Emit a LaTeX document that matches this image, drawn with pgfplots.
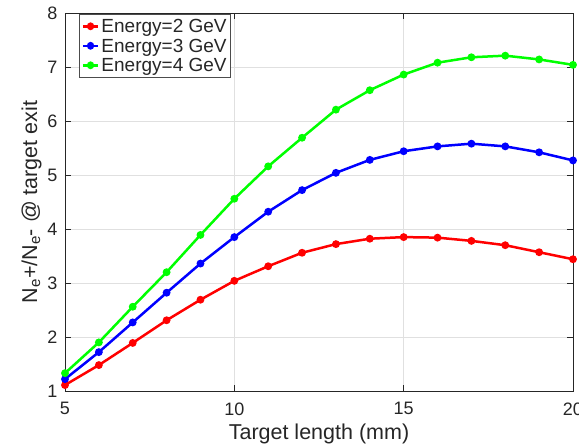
\documentclass[border=0pt]{standalone}
\usepackage{pgfplots}
\pgfplotsset{compat=1.18}
\usepackage{fontspec}
\setmainfont{Liberation Sans}
\begin{document}
\begin{tikzpicture}
\begin{axis}[
  at={(0,0)}, anchor=south west,
  scale only axis, width=508pt, height=378pt,
  xmin=5, xmax=20, ymin=1, ymax=8,
  xtick={5,10,15,20}, ytick={1,2,3,4,5,6,7,8},
  grid=major,
  major grid style={draw=black!12, line width=0.6pt},
  axis line style={draw=black!85, line width=0.8pt},
  tick style={draw=black!85, line width=0.8pt},
  tick align=inside, major tick length=6pt,
  xtick pos=both, ytick pos=both,
  /pgf/number format/assume math mode=true,
  tick label style={font=\fontsize{18}{20}\selectfont, text=black!85},
  xticklabel style={yshift=-8pt},
  yticklabel style={xshift=-4pt},
  xlabel={Target length (mm)},
  ylabel={N$_\mathrm{e}$+/N$_\mathrm{e}$- @ target exit},
  label style={font=\fontsize{21.5}{24}\selectfont, text=black!85},
  xlabel style={yshift=-2pt},
  ylabel style={yshift=-1pt},
  legend style={at={(0.028,0.997)}, anchor=north west, draw=black!70, line width=0.8pt,
    font=\fontsize{19}{21}\selectfont, fill=white, inner sep=2pt, row sep=0pt,
    cells={anchor=west, text=black!85, inner sep=1pt, text height=14pt, text depth=4pt}},
  legend image post style={xscale=0.9},
  every axis plot/.append style={line width=2.5pt, mark=*, mark size=2.6pt},
]
\addplot[color=red, mark options={fill=red, draw=red}] coordinates {
(5,1.11) (6,1.48) (7,1.89) (8,2.31) (9,2.69) (10,3.04) (11,3.31) (12,3.56)
(13,3.72) (14,3.82) (15,3.85) (16,3.84) (17,3.78) (18,3.70) (19,3.57) (20,3.44)};
\addlegendentry{Energy=2 GeV}
\addplot[color=blue, mark options={fill=blue, draw=blue}] coordinates {
(5,1.22) (6,1.72) (7,2.27) (8,2.82) (9,3.36) (10,3.85) (11,4.32) (12,4.72)
(13,5.04) (14,5.28) (15,5.44) (16,5.53) (17,5.58) (18,5.53) (19,5.42) (20,5.27)};
\addlegendentry{Energy=3 GeV}
\addplot[color=green, mark options={fill=green, draw=green}] coordinates {
(5,1.33) (6,1.90) (7,2.56) (8,3.20) (9,3.89) (10,4.56) (11,5.16) (12,5.69)
(13,6.21) (14,6.57) (15,6.86) (16,7.08) (17,7.18) (18,7.21) (19,7.14) (20,7.04)};
\addlegendentry{Energy=4 GeV}
\end{axis}
\pgfresetboundingbox
\path[use as bounding box] (-65pt,-56pt) rectangle (514pt,391pt);
\end{tikzpicture}
\end{document}
